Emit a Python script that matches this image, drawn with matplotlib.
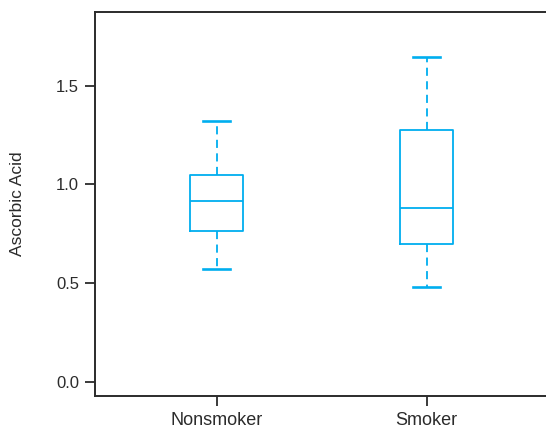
import matplotlib
matplotlib.use("Agg")
import matplotlib.pyplot as plt

# --- Data ---
groups = ["Nonsmoker", "Smoker"]
whislo = [0.571, 0.481]
q1 = [0.764, 0.699]
med = [0.914, 0.882]
q3 = [1.046, 1.274]
whishi = [1.323, 1.646]
yticks = [0.0, 0.5, 1.0, 1.5]

BLUE = "#00AEEF"
DARK = "#2b2b2b"

plt.rcParams["font.family"] = ["Liberation Sans", "DejaVu Sans"]

stats = [
    dict(label=g, whislo=lo, q1=a, med=m, q3=b, whishi=hi, fliers=[])
    for g, lo, a, m, b, hi in zip(groups, whislo, q1, med, q3, whishi)
]

fig = plt.figure(figsize=(5.46, 4.29), dpi=100)
ax = fig.add_axes([95 / 546, 1 - 395.7 / 429, 480 / 546, (395.7 - 11.7) / 429])

ax.bxp(
    stats,
    positions=[1, 2],
    widths=0.25,
    capwidths=0.13,
    showfliers=False,
    boxprops=dict(color=BLUE, linewidth=1.3),
    medianprops=dict(color=BLUE, linewidth=1.3),
    whiskerprops=dict(color=BLUE, linewidth=1.3, linestyle=(0, (4.5, 3))),
    capprops=dict(color=BLUE, linewidth=1.9),
)

ax.set_xlim(0.4205, 0.4205 + 480 / 210)
ax.set_ylim(-0.071, 1.875)
ax.set_yticks(yticks)
ax.set_yticklabels([f"{v:.1f}" for v in yticks])
ax.set_xticks([1, 2])
ax.set_xticklabels(groups)

for s in ax.spines.values():
    s.set_color(DARK)
    s.set_linewidth(1.4)

ax.tick_params(axis="y", length=7.5, width=1.3, color=DARK, labelcolor=DARK,
               labelsize=12, pad=4)
ax.tick_params(axis="x", length=7.5, width=1.3, color=DARK, labelcolor=DARK,
               labelsize=13, pad=4)
ax.set_ylabel("Ascorbic Acid", fontsize=12.5, color=DARK)
ax.yaxis.set_label_coords(-(95 - 25) / 480, 0.5)

fig.savefig("out.png", dpi=100)
